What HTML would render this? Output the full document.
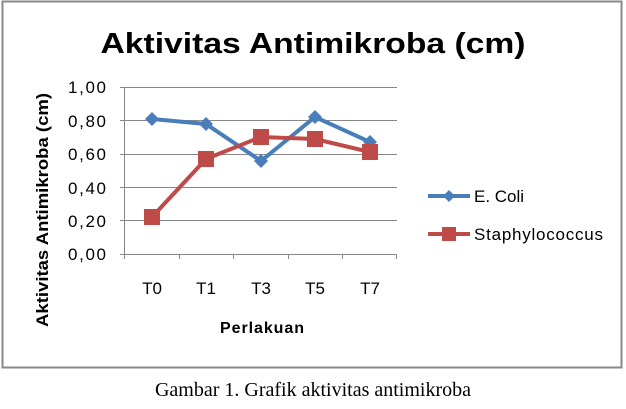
<!DOCTYPE html>
<html><head><style>body{margin:0;background:#fff}</style></head><body>
<svg width="626" height="404" xmlns="http://www.w3.org/2000/svg" font-family="Liberation Sans, sans-serif">
<rect x="2.5" y="1.5" width="619" height="366" fill="#fff" stroke="#888" stroke-width="2"/>
<text x="313" y="53" text-anchor="middle" font-size="29" font-weight="bold" textLength="425" lengthAdjust="spacingAndGlyphs">Aktivitas Antimikroba (cm)</text>
<g stroke="#888" stroke-width="1">
<line x1="120" y1="87.5" x2="397" y2="87.5"/>
<line x1="120" y1="120.5" x2="397" y2="120.5"/>
<line x1="120" y1="154.5" x2="397" y2="154.5"/>
<line x1="120" y1="187.5" x2="397" y2="187.5"/>
<line x1="120" y1="220.5" x2="397" y2="220.5"/>
<line x1="120" y1="254.5" x2="397" y2="254.5"/>
<line x1="124.5" y1="87" x2="124.5" y2="254"/>
<line x1="124.5" y1="254" x2="124.5" y2="259"/>
<line x1="179.5" y1="254" x2="179.5" y2="259"/>
<line x1="233.5" y1="254" x2="233.5" y2="259"/>
<line x1="288.5" y1="254" x2="288.5" y2="259"/>
<line x1="342.5" y1="254" x2="342.5" y2="259"/>
<line x1="396.5" y1="254" x2="396.5" y2="259"/>
</g>
<g font-size="17" text-anchor="end">
<text x="106" y="93" textLength="38">1,00</text><text x="106" y="127" textLength="38">0,80</text><text x="106" y="160" textLength="38">0,60</text><text x="106" y="194" textLength="38">0,40</text><text x="106" y="227" textLength="38">0,20</text><text x="106" y="260" textLength="38">0,00</text>
</g>
<g font-size="17" text-anchor="middle">
<text x="152" y="294">T0</text><text x="206" y="294">T1</text><text x="261" y="294">T3</text><text x="315" y="294">T5</text><text x="370" y="294">T7</text>
</g>
<text x="262" y="333" text-anchor="middle" font-size="16" font-weight="bold" textLength="84">Perlakuan</text>
<text transform="translate(48,210) rotate(-90)" text-anchor="middle" font-size="17" font-weight="bold" textLength="234" lengthAdjust="spacingAndGlyphs">Aktivitas Antimikroba (cm)</text>
<polyline points="152,119 206,124 261,161 315,117 370,142" fill="none" stroke="#4a7ebb" stroke-width="4"/>
<g fill="#4a7ebb">
<path d="M152,112 l7,7 l-7,7 l-7,-7z"/><path d="M206,117 l7,7 l-7,7 l-7,-7z"/><path d="M261,154 l7,7 l-7,7 l-7,-7z"/><path d="M315,110 l7,7 l-7,7 l-7,-7z"/><path d="M370,135 l7,7 l-7,7 l-7,-7z"/>
</g>
<polyline points="152,217 206,159 261,137 315,139 370,152" fill="none" stroke="#be4b48" stroke-width="4"/>
<g fill="#be4b48">
<rect x="144" y="209" width="16" height="16"/><rect x="198" y="151" width="16" height="16"/><rect x="253" y="129" width="16" height="16"/><rect x="307" y="131" width="16" height="16"/><rect x="362" y="144" width="16" height="16"/>
</g>
<line x1="428" y1="196" x2="470" y2="196" stroke="#4a7ebb" stroke-width="4"/>
<path d="M449,190 l6,6 l-6,6 l-6,-6z" fill="#4a7ebb"/>
<text x="474" y="202" font-size="17" textLength="50">E. Coli</text>
<line x1="428" y1="234" x2="470" y2="234" stroke="#be4b48" stroke-width="4"/>
<rect x="442" y="227" width="14" height="14" fill="#be4b48"/>
<text x="474" y="240" font-size="17" textLength="129">Staphylococcus</text>
<text x="313" y="396" text-anchor="middle" font-family="Liberation Serif, serif" font-size="20">Gambar 1. Grafik aktivitas antimikroba</text>
</svg>
</body></html>
